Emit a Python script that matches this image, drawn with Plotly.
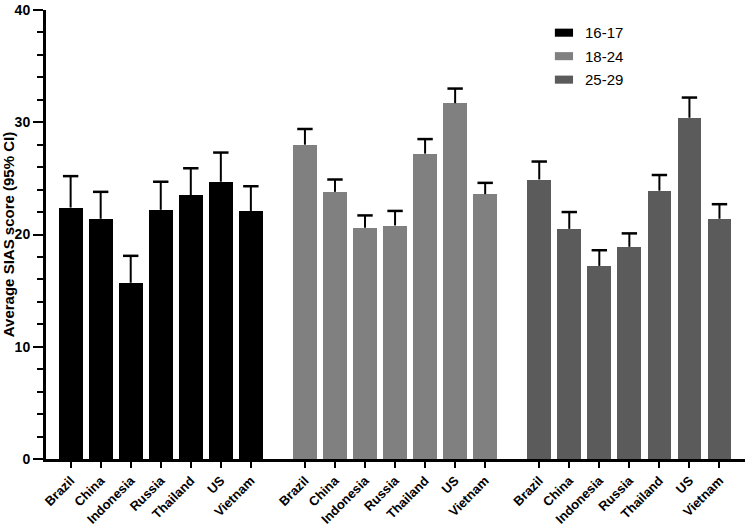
import plotly.graph_objects as go

countries = ["Brazil", "China", "Indonesia", "Russia", "Thailand", "US", "Vietnam"]
age_groups = ["16-17", "18-24", "25-29"]
colors = ["#000000", "#808080", "#5b5b5b"]

mean_16_17 = [22.4, 21.4, 15.7, 22.2, 23.5, 24.7, 22.1]
upper_16_17 = [25.2, 23.8, 18.1, 24.7, 25.9, 27.3, 24.3]

mean_18_24 = [28.0, 23.8, 20.6, 20.8, 27.2, 31.7, 23.6]
upper_18_24 = [29.4, 24.9, 21.7, 22.1, 28.5, 33.0, 24.6]

mean_25_29 = [24.9, 20.5, 17.2, 18.9, 23.9, 30.4, 21.4]
upper_25_29 = [26.5, 22.0, 18.6, 20.1, 25.3, 32.2, 22.7]

means = [mean_16_17, mean_18_24, mean_25_29]
uppers = [upper_16_17, upper_18_24, upper_25_29]

group_step = len(countries) + 0.8  # gap between groups
fig = go.Figure()
tickvals, ticktext = [], []
for g, (name, col, m, u) in enumerate(zip(age_groups, colors, means, uppers)):
    xs = [g * group_step + i for i in range(len(countries))]
    tickvals += xs
    ticktext += countries
    fig.add_trace(go.Bar(
        x=xs, y=m, name=name, width=0.79,
        marker=dict(color=col, line=dict(width=0)),
        showlegend=False,
    ))
    # upper-only error bars: stem from bar top to upper CI, with a cap
    lx, ly = [], []
    for x, a, b in zip(xs, m, u):
        lx += [x, x, None]
        ly += [a, b, None]
    fig.add_trace(go.Scatter(x=lx, y=ly, mode="lines",
                             line=dict(color="#000000", width=2),
                             showlegend=False, hoverinfo="skip"))
    fig.add_trace(go.Scatter(x=xs, y=u, mode="markers",
                             marker=dict(symbol="line-ew", size=11,
                                         line=dict(color="#000000", width=2.5)),
                             showlegend=False, hoverinfo="skip"))

font_family = "Liberation Sans, Arial, sans-serif"

# legend drawn as swatches + labels
for i, (name, col) in enumerate(zip(age_groups, colors)):
    yc = 0.9495 - i * 0.0523
    fig.add_shape(type="rect", xref="paper", yref="paper",
                  x0=0.728, x1=0.754, y0=yc - 0.009, y1=yc + 0.009,
                  fillcolor=col, line=dict(width=0))
    fig.add_annotation(x=0.768, y=yc, xref="paper", yref="paper",
                       text=name, showarrow=False, xanchor="left", yanchor="middle",
                       font=dict(family=font_family, size=15, color="#000000"))

fig.update_layout(
    width=750, height=526,
    margin=dict(l=46, r=5, t=10, b=67, autoexpand=False),
    plot_bgcolor="white", paper_bgcolor="white",
    font=dict(family=font_family, color="#000000"),
    bargap=0,
    xaxis=dict(
        range=[-0.82, 2 * group_step + 6.85],
        tickvals=tickvals, ticktext=ticktext, tickangle=-45,
        ticks="outside", ticklen=6, tickwidth=2, tickcolor="#000000",
        showline=True, linecolor="#000000", linewidth=3,
        showgrid=False, zeroline=False, automargin=False,
        tickfont=dict(family=font_family, size=13, color="#000000", weight="bold"),
    ),
    yaxis=dict(
        range=[0, 40], tickvals=[0, 10, 20, 30, 40],
        ticks="outside", ticklen=10, tickwidth=2, tickcolor="#000000",
        minor=dict(dtick=2, ticks="outside", ticklen=6, tickwidth=2, tickcolor="#000000"),
        showline=True, linecolor="#000000", linewidth=3,
        showgrid=False, zeroline=False, automargin=False,
        tickfont=dict(family=font_family, size=14, color="#000000", weight="bold"),
        title=dict(text="Average SIAS score (95% CI)", standoff=4,
                   font=dict(family=font_family, size=15, color="#000000", weight="bold")),
    ),
)

fig.write_html("out.html", config={"displayModeBar": False},
               post_script="document.body.style.margin='0';document.body.style.overflow='hidden';")
